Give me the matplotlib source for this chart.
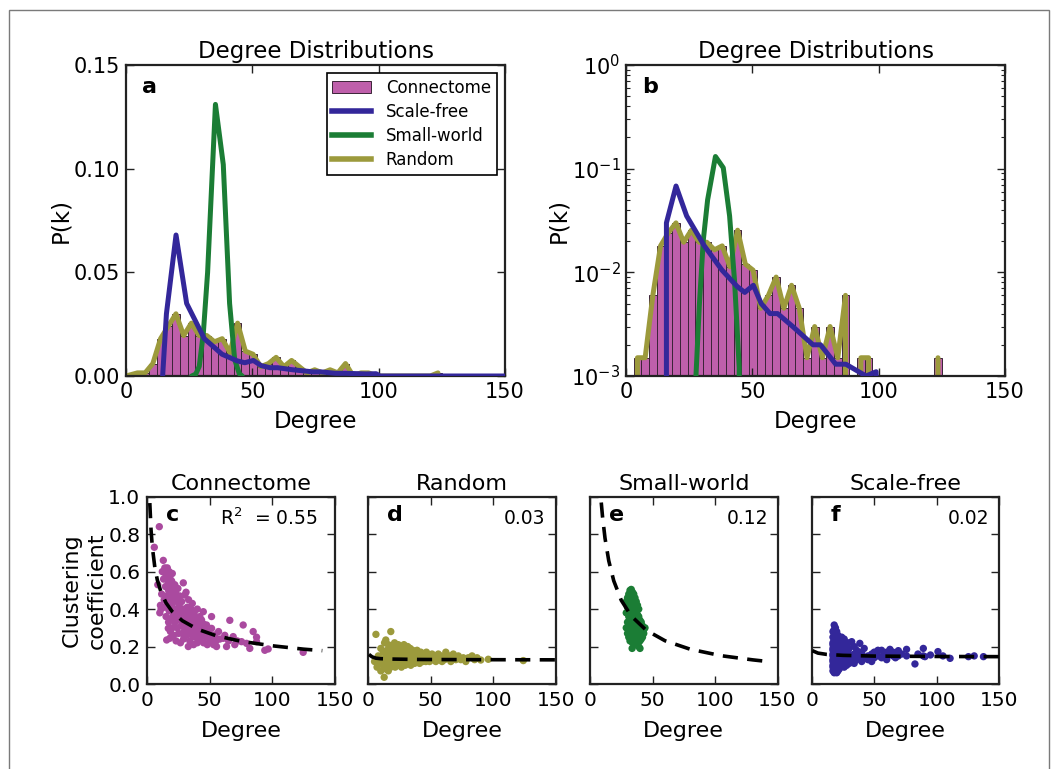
import numpy as np
import matplotlib
matplotlib.use("Agg")
import matplotlib.pyplot as plt
from matplotlib.patches import Rectangle, Patch
from matplotlib.lines import Line2D

# ---------------- data ----------------
# Connectome degree histogram (40 bins between degree 3 and 125), P(k)
hist_lo, hist_hi, hist_nbins = 3.0, 125.0, 40
connectome_pk = [0.0015, 0.0015, 0.006, 0.018, 0.024, 0.030, 0.0195, 0.0255, 0.0195, 0.0195,
                 0.0165, 0.018, 0.0113, 0.0255, 0.012, 0.0105, 0.0045, 0.006, 0.009, 0.0045,
                 0.0075, 0.0045, 0.0015, 0.003, 0.0015, 0.003, 0.0015, 0.006, 0.0, 0.0015,
                 0.0015, 0.0, 0.0, 0.0, 0.0, 0.0, 0.0, 0.0, 0.0, 0.0015]
# Random network degree distribution (drawn at bin centres)
random_pk = [0.0015, 0.0015, 0.006, 0.018, 0.024, 0.030, 0.0195, 0.0255, 0.0195, 0.0195,
             0.0165, 0.018, 0.0113, 0.0255, 0.012, 0.0105, 0.0045, 0.006, 0.009, 0.0045,
             0.0075, 0.0045, 0.0015, 0.003, 0.0015, 0.003, 0.0015, 0.006, 0.0, 0.0015,
             0.0015, 0.0, 0.0, 0.0, 0.0, 0.0, 0.0, 0.0, 0.0, 0.0015]
# Scale-free degree distribution
sf_k = [14.5, 16, 19.8, 24, 31, 38, 44, 47, 50.4, 53.5, 57, 60, 66, 74, 77, 83, 87, 95, 99, 100.5, 150]
sf_pk = [0, 0.030, 0.068, 0.035, 0.018, 0.0105, 0.0073, 0.0064, 0.0075, 0.005, 0.004, 0.004,
         0.003, 0.002, 0.002, 0.0013, 0.0013, 0.001, 0.0011, 0, 0]
# Small-world degree distribution
sw_k = [26, 27.6, 29, 30.6, 32.3, 35.4, 38.5, 41, 43, 44.8, 46]
sw_pk = [0, 0.0009, 0.0047, 0.0205, 0.05, 0.131, 0.102, 0.035, 0.008, 0.0012, 0]

# Clustering coefficient vs degree: connectome
conn_deg = [5.6, 9.6, 8.4, 10.5, 11, 12, 12.8, 11.5, 10,
            13, 13.5, 14, 14.2, 14.5, 15, 15, 15.5, 16, 16, 16.5, 17, 17, 17.5, 17.5, 18, 18, 18.5, 18.5,
            19, 19, 19.5, 19.5, 20, 20, 20, 15.5, 18, 16.8,
            20.5, 21, 21, 21.5, 22, 22, 22.5, 23, 23, 23.5, 24, 24, 24.5, 25, 25, 25.5, 26, 26, 26.5, 27,
            27, 27.5, 28, 28, 28.8, 29, 29, 29.5, 30, 30, 30,
            31, 31, 31.5, 32, 32, 32.8, 33, 33, 33.5, 34, 34, 35, 35, 35.5, 36, 36, 37, 37, 37.5, 38, 38,
            39, 39, 40, 40, 40,
            41, 41, 42, 42, 43, 43.4, 44, 44.8, 45, 45, 46, 47, 47.4, 48, 48, 49, 50,
            51.4, 51.4, 52, 53, 54.1, 55, 55.4, 57, 58, 60.8, 62, 63.4, 65, 66, 68.7, 70, 72, 75.4, 76.7,
            79.4, 82, 84.7, 87.4, 87.4, 94, 96.7, 124.7]
conn_cc = [0.73, 0.84, 0.53, 0.42, 0.40, 0.60, 0.66, 0.48, 0.38,
           0.56, 0.45, 0.62, 0.41, 0.52, 0.58, 0.36, 0.47, 0.62, 0.43, 0.55, 0.33, 0.50, 0.60, 0.39, 0.45, 0.57, 0.28, 0.52,
           0.41, 0.35, 0.55, 0.47, 0.30, 0.43, 0.59, 0.235, 0.244, 0.297,
           0.50, 0.37, 0.26, 0.45, 0.53, 0.33, 0.40, 0.48, 0.23, 0.36, 0.44, 0.30, 0.51, 0.39, 0.27, 0.42, 0.34, 0.47, 0.22, 0.38,
           0.31, 0.44, 0.36, 0.27, 0.54, 0.40, 0.24, 0.33, 0.475, 0.37, 0.29,
           0.49, 0.35, 0.26, 0.41, 0.31, 0.20, 0.38, 0.45, 0.28, 0.34, 0.23, 0.40, 0.30, 0.36, 0.26, 0.43, 0.33, 0.21, 0.38, 0.29, 0.25,
           0.35, 0.31, 0.27, 0.40, 0.22,
           0.33, 0.29, 0.36, 0.24, 0.30, 0.342, 0.26, 0.386, 0.22, 0.32, 0.28, 0.25, 0.315, 0.21, 0.30, 0.27, 0.23,
           0.36, 0.297, 0.25, 0.21, 0.262, 0.23, 0.20, 0.28, 0.24, 0.244, 0.26, 0.20, 0.23, 0.34, 0.253, 0.21, 0.23, 0.226, 0.315,
           0.217, 0.19, 0.28, 0.25, 0.226, 0.18, 0.187, 0.169]

# Random
rand_deg = [6.1, 5, 7, 8, 9, 10, 10, 11, 12, 12.7, 12,
            13, 13.5, 14, 14, 14.5, 15, 15, 15.5, 16, 16, 16.5, 17, 17, 17.5, 18, 18, 18.5, 19, 19, 19.5, 20, 20, 20,
            21, 21, 21.5, 22, 22, 22.5, 23, 23, 23.5, 24, 24, 24.5, 25, 25, 25.5, 26, 26, 26.5, 27, 27, 27.5, 28, 28,
            28.5, 29, 29, 29.5, 30, 30,
            31, 31, 31.5, 32, 32, 33, 33, 33.5, 34, 34, 35, 35, 35.5, 36, 36, 37, 37, 38, 38, 39, 39, 40, 40,
            41, 41, 42, 42, 43, 43.5, 44, 45, 45, 46, 46.5, 47, 48, 48, 49, 50,
            51, 52, 53, 54, 55, 56, 57, 58, 59, 60, 61, 62, 63, 65, 66, 67, 68, 70, 72, 74, 76, 78, 80, 83, 85, 87,
            90, 96, 124]
rand_cc = [0.265, 0.12, 0.09, 0.15, 0.11, 0.19, 0.07, 0.13, 0.17, 0.036, 0.10,
           0.22, 0.14, 0.235, 0.08, 0.12, 0.18, 0.10, 0.15, 0.21, 0.07, 0.13, 0.17, 0.11, 0.19, 0.28, 0.09, 0.14, 0.16, 0.12, 0.20, 0.10, 0.15, 0.18,
           0.13, 0.22, 0.09, 0.16, 0.12, 0.19, 0.14, 0.10, 0.17, 0.13, 0.21, 0.11, 0.15, 0.18, 0.12, 0.14, 0.20, 0.09, 0.16, 0.13, 0.18, 0.11, 0.15,
           0.21, 0.13, 0.17, 0.10, 0.14, 0.19,
           0.12, 0.16, 0.20, 0.14, 0.11, 0.17, 0.13, 0.19, 0.15, 0.10, 0.12, 0.16, 0.18, 0.14, 0.13, 0.11, 0.17, 0.15, 0.12, 0.14, 0.18, 0.13, 0.16,
           0.15, 0.11, 0.17, 0.13, 0.14, 0.12, 0.16, 0.13, 0.15, 0.12, 0.17, 0.14, 0.13, 0.15, 0.12, 0.14,
           0.16, 0.13, 0.15, 0.12, 0.14, 0.16, 0.13, 0.15, 0.12, 0.14, 0.13, 0.17, 0.14, 0.15, 0.12, 0.14, 0.16, 0.13, 0.15, 0.13, 0.14, 0.12, 0.14, 0.15, 0.13, 0.14,
           0.128, 0.132, 0.125]

# Small-world
sw_deg = [29, 29, 29,
          30, 30, 30, 30,
          31, 31, 31, 31, 31, 31,
          32, 32, 32, 32, 32, 32, 32, 32,
          33, 33, 33, 33, 33, 33, 33, 33, 33.7, 33,
          34, 34, 34, 34, 34, 34, 34, 34, 34, 34, 34,
          35, 35, 35, 35, 35, 35, 35, 35, 35, 35, 35,
          36, 36, 36, 36, 36, 36, 36, 36, 36, 36,
          37, 37, 37, 37, 37, 37, 37, 37, 37,
          38, 38, 38, 38, 38, 38, 38,
          39, 39, 39, 39, 39, 39, 39,
          40, 40, 40, 40, 40, 40,
          41, 41, 41, 41,
          42, 42, 42,
          43, 43,
          44]
sw_cc = [0.30, 0.38, 0.44,
         0.33, 0.41, 0.27, 0.46,
         0.29, 0.36, 0.43, 0.48, 0.32, 0.25,
         0.31, 0.39, 0.45, 0.50, 0.27, 0.35, 0.42, 0.23,
         0.505, 0.33, 0.40, 0.47, 0.29, 0.37, 0.44, 0.26, 0.19, 0.31,
         0.36, 0.49, 0.42, 0.30, 0.25, 0.45, 0.33, 0.39, 0.28, 0.22, 0.47,
         0.34, 0.41, 0.48, 0.27, 0.31, 0.44, 0.37, 0.23, 0.39, 0.29, 0.46,
         0.35, 0.43, 0.30, 0.26, 0.38, 0.46, 0.32, 0.40, 0.22, 0.28,
         0.33, 0.40, 0.29, 0.36, 0.44, 0.25, 0.31, 0.38, 0.21,
         0.30, 0.37, 0.34, 0.42, 0.27, 0.24, 0.32,
         0.31, 0.28, 0.36, 0.40, 0.25, 0.20, 0.33,
         0.29, 0.34, 0.26, 0.23, 0.31, 0.19,
         0.30, 0.27, 0.33, 0.24,
         0.28, 0.31, 0.25,
         0.29, 0.27,
         0.30]

# Scale-free
sfn_deg = ([17] * 13 + [18] * 14 + [19] * 13 + [20] * 12 + [21] * 10 + [22] * 8 + [23] * 6 + [24] * 5 +
           [25] * 4 + [26] * 4 + [27] * 3 + [28] * 3 + [29] * 3 + [30] * 3 + [32] * 3 + [34] * 3 + [36] * 2 +
           [38.5] * 2 + [40] * 2 + [42] * 2 + [45] * 2 + [48] * 2 + [50] * 2 + [53] * 2 + [55.9] * 2 + [58] * 2 +
           [60] * 2 + [62.6] * 2 + [65] * 2 + [67] * 2 + [69.3] * 2 + [72] + [75.9] * 2 + [82.6] + [85] +
           [89.3] * 2 + [90.6] + [95] + [101] + [105] + [110.7] + [125.4] + [130] + [137.4])
sfn_cc = [0.07, 0.10, 0.13, 0.16, 0.19, 0.22, 0.25, 0.28, 0.12, 0.09, 0.15, 0.18, 0.21,
          0.315, 0.08, 0.11, 0.14, 0.17, 0.20, 0.23, 0.26, 0.29, 0.06, 0.13, 0.16, 0.19, 0.24,
          0.07, 0.10, 0.12, 0.15, 0.18, 0.21, 0.24, 0.27, 0.30, 0.09, 0.14, 0.17, 0.20,
          0.06, 0.09, 0.12, 0.15, 0.18, 0.21, 0.25, 0.28, 0.11, 0.14, 0.17, 0.23,
          0.07, 0.10, 0.13, 0.16, 0.19, 0.22, 0.26, 0.12, 0.15, 0.18,
          0.08, 0.11, 0.14, 0.17, 0.20, 0.24, 0.13, 0.16,
          0.09, 0.12, 0.15, 0.18, 0.22, 0.14,
          0.10, 0.13, 0.16, 0.20, 0.25,
          0.11, 0.14, 0.17, 0.22,
          0.09, 0.15, 0.19, 0.24,
          0.12, 0.16, 0.21,
          0.10, 0.14, 0.18,
          0.13, 0.17, 0.22,
          0.11, 0.15, 0.19,
          0.226, 0.14, 0.12,
          0.16, 0.20, 0.11,
          0.13, 0.18,
          0.217, 0.15,
          0.12, 0.17,
          0.19, 0.14,
          0.15, 0.13,
          0.16, 0.12,
          0.17, 0.14,
          0.15, 0.18,
          0.18, 0.14,
          0.16, 0.15,
          0.17, 0.13,
          0.185, 0.16,
          0.15, 0.17,
          0.16, 0.14,
          0.178, 0.15,
          0.16,
          0.185, 0.15,
          0.107,
          0.16,
          0.19, 0.15,
          0.146,
          0.155,
          0.173,
          0.15,
          0.137,
          0.146,
          0.15,
          0.146]

# Fitted trend lines
fit_c_k = [2, 3, 4, 6, 8, 11, 15, 20, 28, 40, 55, 75, 100, 125, 140]
fit_c_cc = [0.966, 0.822, 0.733, 0.624, 0.556, 0.490, 0.433, 0.386, 0.338, 0.293, 0.258, 0.228, 0.204, 0.186, 0.178]
fit_d_k = [0.5, 3, 6, 10, 20, 40, 80, 150]
fit_d_cc = [0.158, 0.145, 0.138, 0.135, 0.133, 0.131, 0.130, 0.129]
fit_e_k = [9, 10, 12, 15, 19, 25, 33, 45, 60, 80, 105, 130, 145]
fit_e_cc = [0.969, 0.895, 0.779, 0.658, 0.551, 0.447, 0.363, 0.287, 0.231, 0.186, 0.151, 0.129, 0.118]
fit_f_k = [0.5, 5, 12, 25, 50, 100, 150]
fit_f_cc = [0.178, 0.165, 0.158, 0.153, 0.149, 0.147, 0.146]

r2_labels = ["R$^2$  = 0.55", "0.03", "0.12", "0.02"]

# ---------------- colours ----------------
C_CONN_BAR = "#bf5fab"
C_CONN_PT = "#aa4a9f"
C_SF = "#33279a"
C_SW = "#1b7d35"
C_RAND = "#9c9a3c"
C_SPINE = "#222222"

plt.rcParams["font.family"] = ["DejaVu Sans"]
W, H = 1058, 769
fig = plt.figure(figsize=(W / 100, H / 100), dpi=100)


def rect(l, r, t, b):
    return [l / W, 1 - b / H, (r - l) / W, (b - t) / H]


def style(ax, labelsize=14.5, pad=4):
    for s in ax.spines.values():
        s.set_linewidth(1.6)
        s.set_color(C_SPINE)
    ax.tick_params(which="both", direction="in", top=True, right=True,
                   labelsize=labelsize, pad=pad, color=C_SPINE)
    ax.tick_params(which="major", length=6, width=1)
    ax.tick_params(which="minor", length=3, width=0.8)


edges = np.linspace(hist_lo, hist_hi, hist_nbins + 1)
bw = edges[1] - edges[0]
centers = edges[:-1] + bw / 2
rand_x = np.concatenate([[0.0], centers])
rand_y = np.concatenate([[0.0], random_pk])

# ---------------- panels a and b ----------------
for idx, (l, r) in enumerate([(126, 505), (626, 1005)]):
    ax = fig.add_axes(rect(l, r, 65, 376))
    logy = idx == 1
    if logy:
        ax.set_yscale("log")
    ax.bar(edges[:-1], connectome_pk, width=bw, align="edge", color=C_CONN_BAR,
           edgecolor="#3b2438", linewidth=0.7, zorder=1)
    ax.plot(rand_x, rand_y, color=C_RAND, lw=3.6, zorder=2,
            solid_joinstyle="round", solid_capstyle="round")
    ax.plot(sw_k, sw_pk, color=C_SW, lw=3.6, zorder=3,
            solid_joinstyle="round", solid_capstyle="round")
    ax.plot(sf_k, sf_pk, color=C_SF, lw=3.6, zorder=4,
            solid_joinstyle="round", solid_capstyle="round")
    ax.set_xlim(0, 150)
    ax.set_xticks([0, 50, 100, 150])
    if logy:
        ax.set_ylim(1e-3, 1)
    else:
        ax.set_ylim(0, 0.15)
        ax.set_yticks([0, 0.05, 0.10, 0.15])
        ax.set_yticklabels(["0.00", "0.05", "0.10", "0.15"])
    style(ax, 15, 4)
    ax.set_title("Degree Distributions", fontsize=16.5, pad=5)
    ax.set_xlabel("Degree", fontsize=16.5, labelpad=6)
    ax.set_ylabel("P(k)", fontsize=16.5, labelpad=1)
    ax.text(0.043, 0.93, "ab"[idx], transform=ax.transAxes, fontsize=16,
            fontweight="bold", ha="left", va="center")
    if idx == 0:
        hp = Patch(facecolor=C_CONN_BAR, edgecolor="#3b2438", linewidth=0.7)
        hsf = Line2D([], [], color=C_SF, lw=4)
        hsw = Line2D([], [], color=C_SW, lw=4)
        hr = Line2D([], [], color=C_RAND, lw=4)
        leg = ax.legend([hp, hsf, hsw, hr], ["Connectome", "Scale-free", "Small-world", "Random"],
                        loc="upper right", fontsize=12, fancybox=False, framealpha=1,
                        edgecolor="black", borderaxespad=0.5, handlelength=2.3,
                        labelspacing=0.35, borderpad=0.35, handletextpad=0.9)
        leg.get_frame().set_linewidth(1.2)

# ---------------- panels c-f ----------------
scatters = [
    ("Connectome", conn_deg, conn_cc, C_CONN_PT, fit_c_k, fit_c_cc),
    ("Random", rand_deg, rand_cc, C_RAND, fit_d_k, fit_d_cc),
    ("Small-world", sw_deg, sw_cc, C_SW, fit_e_k, fit_e_cc),
    ("Scale-free", sfn_deg, sfn_cc, C_SF, fit_f_k, fit_f_cc),
]
lefts = [147.3, 368.3, 590, 811.7]
text_x = [0.91, 0.945, 0.948, 0.948]
for i, (title, xs, ys, col, fk, fc) in enumerate(scatters):
    l = lefts[i]
    ax = fig.add_axes(rect(l, l + 187.5, 496.7, 684))
    ax.scatter(xs, ys, s=28, color=col, edgecolors="none", zorder=2)
    ax.plot(fk, fc, color="black", lw=2.6, dashes=(4.2, 2.6), zorder=3)
    ax.set_xlim(0, 150)
    ax.set_ylim(0, 1.0)
    ax.set_xticks([0, 50, 100, 150])
    ax.set_yticks([0, 0.2, 0.4, 0.6, 0.8, 1.0])
    style(ax, 14.5, 5)
    if i == 0:
        ax.set_yticklabels(["0.0", "0.2", "0.4", "0.6", "0.8", "1.0"])
        ax.set_ylabel("Clustering\ncoefficient", fontsize=16, labelpad=1, linespacing=1.3)
    else:
        ax.set_yticklabels([])
    ax.set_title(title, fontsize=16, pad=5)
    ax.set_xlabel("Degree", fontsize=16, labelpad=8)
    ax.text(0.10, 0.90, "cdef"[i], transform=ax.transAxes, fontsize=16,
            fontweight="bold", ha="left", va="center")
    ax.text(text_x[i], 0.885, r2_labels[i], transform=ax.transAxes, fontsize=13.5,
            ha="right", va="center")

# outer frame
fig.patches.append(Rectangle((9 / W, -0.05), (1049 - 9) / W, 1.05 - 10 / H,
                             transform=fig.transFigure, fill=False,
                             edgecolor="#7a7a7a", linewidth=1.0))

fig.savefig("out.png", dpi=100, facecolor="white")
